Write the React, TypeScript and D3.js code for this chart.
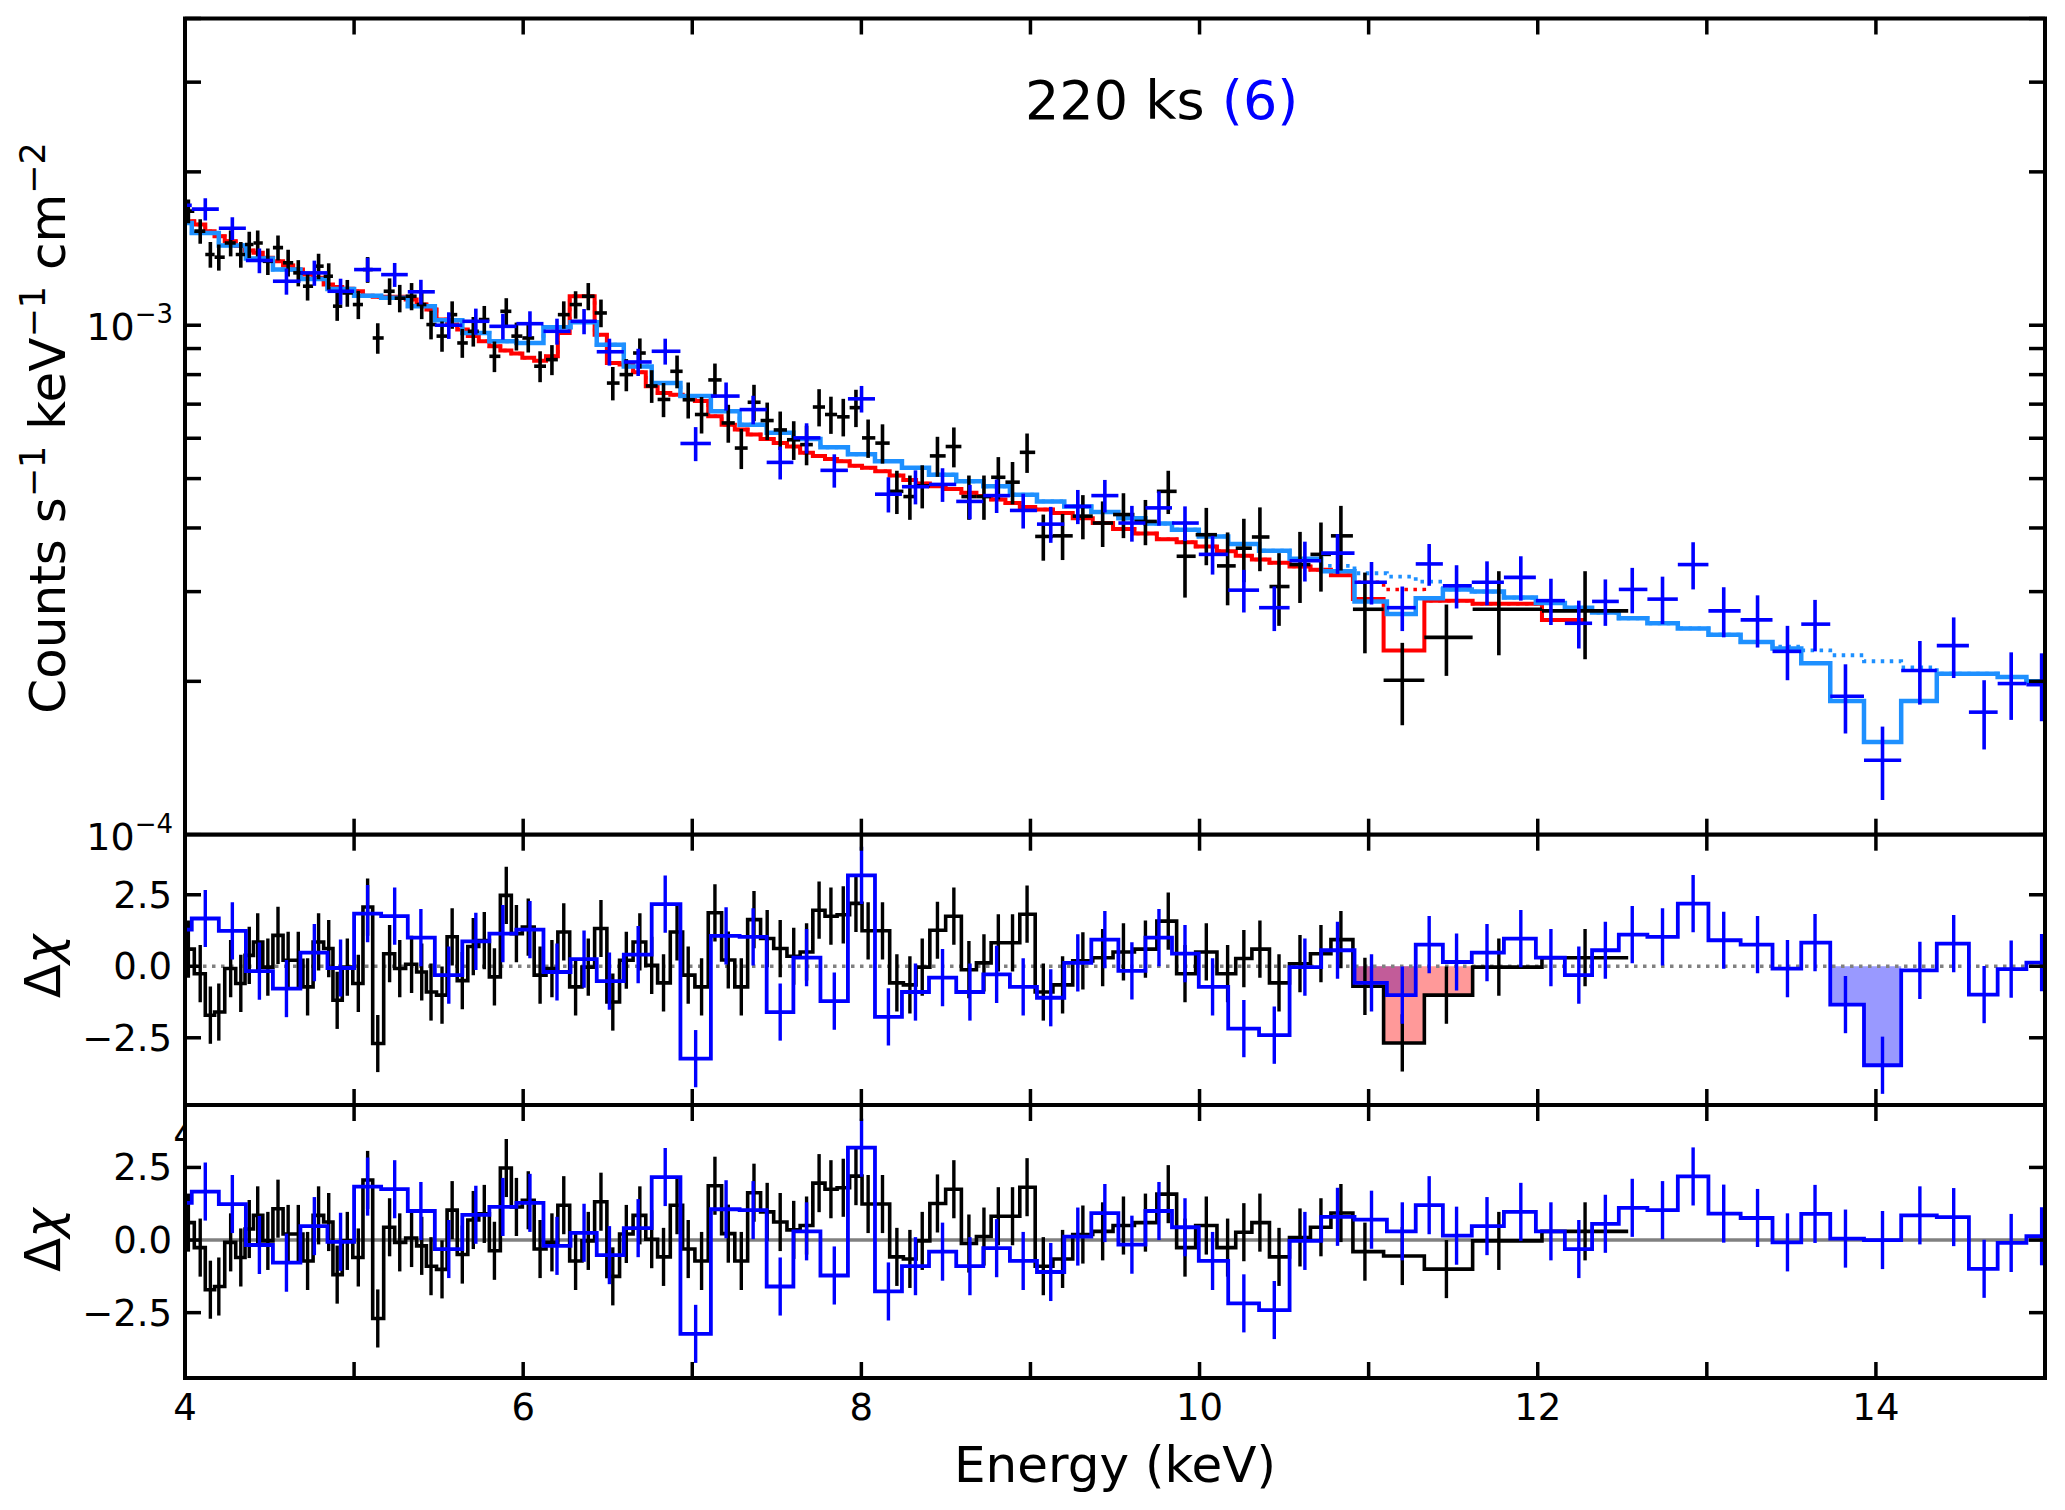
import React from 'react';
import * as d3 from 'd3';

const FONT = "'DejaVu Sans', Verdana, sans-serif";

// ---- black spectrum (fine bins), flux in units of 1e-3 counts/s/keV/cm2 ----
const blackE = [
  4.02, 4.09, 4.15, 4.2, 4.27, 4.33, 4.38, 4.43, 4.49, 4.55,
  4.61, 4.67, 4.725, 4.79, 4.85, 4.9, 4.96, 5.025, 5.08, 5.14,
  5.21, 5.27, 5.34, 5.4, 5.455, 5.52, 5.58, 5.64, 5.705, 5.77,
  5.83, 5.9, 5.96, 6.03, 6.1, 6.17, 6.24, 6.31, 6.385, 6.46,
  6.53, 6.61, 6.69, 6.76, 6.83, 6.91, 6.976, 7.055, 7.134, 7.213,
  7.29, 7.365, 7.443, 7.52, 7.6, 7.676, 7.75, 7.82, 7.893, 7.968,
  8.04, 8.125, 8.21, 8.287, 8.36, 8.45, 8.547, 8.636, 8.725, 8.81,
  8.894, 8.98, 9.076, 9.19, 9.31, 9.427, 9.55, 9.68, 9.815, 9.914,
  10.04, 10.166, 10.262, 10.357, 10.47, 10.594, 10.718, 10.836, 10.978, 11.199,
  11.46, 11.77, 12.28,
];
const blackFlux = [
  1.675, 1.53, 1.377, 1.36, 1.45, 1.377, 1.44, 1.45, 1.335, 1.42,
  1.326, 1.267, 1.193, 1.306, 1.248, 1.09, 1.157, 1.098, 1.286, 0.944,
  1.166, 1.13, 1.14, 1.098, 1.003, 0.952, 1.049, 0.923, 0.973, 1.026,
  0.869, 1.065, 0.952, 0.944, 0.831, 0.856, 1.049, 1.098, 1.14, 1.057,
  0.77, 0.8, 0.882, 0.76, 0.715, 0.812, 0.714, 0.668, 0.781, 0.643,
  0.574, 0.706, 0.65, 0.623, 0.596, 0.583, 0.691, 0.668, 0.661, 0.689,
  0.601, 0.587, 0.472, 0.461, 0.484, 0.554, 0.578, 0.461, 0.461, 0.503,
  0.492, 0.563, 0.385, 0.386, 0.422, 0.409, 0.425, 0.412, 0.472, 0.352,
  0.388, 0.337, 0.365, 0.384, 0.307, 0.339, 0.355, 0.386, 0.277, 0.201,
  0.244, 0.277, 0.275,
];
const blackErr = [
  0.09, 0.085, 0.08, 0.08, 0.085, 0.08, 0.085, 0.085, 0.08, 0.08,
  0.08, 0.075, 0.075, 0.075, 0.075, 0.07, 0.07, 0.07, 0.075, 0.065,
  0.07, 0.07, 0.07, 0.07, 0.065, 0.065, 0.065, 0.06, 0.065, 0.065,
  0.06, 0.065, 0.06, 0.06, 0.058, 0.058, 0.065, 0.068, 0.07, 0.066,
  0.058, 0.058, 0.06, 0.056, 0.055, 0.06, 0.058, 0.055, 0.06, 0.055,
  0.052, 0.058, 0.055, 0.054, 0.052, 0.052, 0.058, 0.056, 0.056, 0.058,
  0.052, 0.052, 0.046, 0.046, 0.047, 0.05, 0.052, 0.046, 0.046, 0.048,
  0.047, 0.05, 0.04, 0.04, 0.042, 0.042, 0.043, 0.042, 0.046, 0.06,
  0.05, 0.055, 0.052, 0.055, 0.05, 0.054, 0.055, 0.056, 0.05, 0.037,
  0.039, 0.052, 0.054,
];
// red model (with the absorption line) and its continuum (dotted)
const redModel = [
  1.6, 1.577, 1.53, 1.495, 1.462, 1.43, 1.402, 1.387, 1.356, 1.336,
  1.31, 1.286, 1.257, 1.239, 1.202, 1.188, 1.179, 1.166, 1.143, 1.137,
  1.137, 1.137, 1.123, 1.098, 1.074, 1.026, 1.003, 0.981, 0.952, 0.93,
  0.909, 0.892, 0.88, 0.863, 0.852, 0.869, 0.966, 1.14, 1.14, 0.958,
  0.843, 0.837, 0.809, 0.759, 0.736, 0.73, 0.726, 0.71, 0.663, 0.638,
  0.624, 0.61, 0.598, 0.587, 0.578, 0.562, 0.554, 0.546, 0.541, 0.53,
  0.525, 0.517, 0.507, 0.497, 0.489, 0.483, 0.477, 0.469, 0.462, 0.455,
  0.448, 0.44, 0.435, 0.428, 0.418, 0.409, 0.398, 0.39, 0.38, 0.375,
  0.368, 0.36, 0.353, 0.347, 0.342, 0.336, 0.331, 0.323, 0.29, 0.23,
  0.288, 0.284, 0.264,
];
const redContinuum = [
  1.6, 1.577, 1.53, 1.495, 1.462, 1.43, 1.402, 1.387, 1.356, 1.336,
  1.31, 1.286, 1.257, 1.239, 1.202, 1.188, 1.179, 1.166, 1.143, 1.137,
  1.137, 1.137, 1.123, 1.098, 1.074, 1.026, 1.003, 0.981, 0.952, 0.93,
  0.909, 0.892, 0.88, 0.863, 0.852, 0.869, 0.966, 1.14, 1.14, 0.958,
  0.843, 0.837, 0.809, 0.759, 0.736, 0.73, 0.726, 0.71, 0.663, 0.638,
  0.624, 0.61, 0.598, 0.587, 0.578, 0.562, 0.554, 0.546, 0.541, 0.53,
  0.525, 0.517, 0.507, 0.497, 0.489, 0.483, 0.477, 0.469, 0.462, 0.455,
  0.448, 0.44, 0.435, 0.428, 0.418, 0.409, 0.398, 0.39, 0.38, 0.375,
  0.368, 0.36, 0.353, 0.347, 0.342, 0.336, 0.331, 0.323, 0.313, 0.303,
  0.288, 0.284, 0.264,
];
// residuals (delta chi) against the continuum (middle) and the full model (bottom)
const blackResCont = [
  0.6, -0.26, -1.71, -1.6, -0.08, -0.6, 0.38, 0.85, -0.03, 1.08,
  0.21, 0.21, -0.72, 0.85, 0.62, -1.19, -0.03, -0.6, 2.07, -2.7,
  0.44, -0.08, 0.07, -0.2, -0.9, -1.01, 1.03, -0.5, 0.69, 0.9,
  -0.37, 2.48, 1.14, 1.37, -0.31, -0.08, 1.2, -0.72, -0.03, 1.32,
  -1.25, 0.21, 0.85, 0.03, -0.58, 1.2, -0.31, -0.72, 1.87, 0.22,
  -0.72, 1.63, 0.97, 0.62, 0.35, 0.5, 1.96, 1.75, 1.8, 2.2,
  1.24, 1.24, -0.58, -0.65, -0.03, 1.26, 1.75, -0.12, 0.12, 0.82,
  0.82, 1.82, -0.9, -0.65, 0.19, 0.3, 0.5, 0.6, 1.58, -0.26,
  0.5, -0.26, 0.27, 0.6, -0.58, 0.09, 0.44, 0.93, -0.7, -2.68,
  -1.01, -0.03, 0.3,
];
const blackResLine = [
  0.6, -0.26, -1.71, -1.6, -0.08, -0.6, 0.38, 0.85, -0.03, 1.08,
  0.21, 0.21, -0.72, 0.85, 0.62, -1.19, -0.03, -0.6, 2.07, -2.7,
  0.44, -0.08, 0.07, -0.2, -0.9, -1.01, 1.03, -0.5, 0.69, 0.9,
  -0.37, 2.48, 1.14, 1.37, -0.31, -0.08, 1.2, -0.72, -0.03, 1.32,
  -1.25, 0.21, 0.85, 0.03, -0.58, 1.2, -0.31, -0.72, 1.87, 0.22,
  -0.72, 1.63, 0.97, 0.62, 0.35, 0.5, 1.96, 1.75, 1.8, 2.2,
  1.24, 1.24, -0.58, -0.65, -0.03, 1.26, 1.75, -0.12, 0.12, 0.82,
  0.82, 1.82, -0.9, -0.65, 0.19, 0.3, 0.5, 0.6, 1.58, -0.26,
  0.5, -0.26, 0.27, 0.6, -0.58, 0.09, 0.44, 0.93, -0.4, -0.55,
  -1.0, -0.03, 0.3,
];
const blackFillIdx = [88, 89, 90];

// ---- blue spectrum (coarser bins) ----
const blueE = [
  3.96, 4.12, 4.28, 4.44, 4.6, 4.765, 4.92, 5.08, 5.24, 5.395,
  5.56, 5.72, 5.88, 6.04, 6.2, 6.36, 6.51, 6.68, 6.84, 7.02,
  7.2, 7.36, 7.52, 7.676, 7.84, 8.001, 8.16, 8.32, 8.48, 8.642,
  8.8, 8.957, 9.12, 9.28, 9.44, 9.6, 9.76, 9.914, 10.077, 10.262,
  10.442, 10.623, 10.816, 11.017, 11.199, 11.358, 11.52, 11.7, 11.9, 12.078,
  12.243, 12.4, 12.559, 12.738, 12.919, 13.1, 13.3, 13.477, 13.64, 13.82,
  14.039, 14.26, 14.46, 14.64, 14.8, 14.98,
];
const blueFlux = [
  1.72, 1.69, 1.55, 1.34, 1.22, 1.267, 1.166, 1.286, 1.257, 1.163,
  1.0, 1.018, 0.995, 1.007, 0.973, 1.018, 0.887, 0.847, 0.889, 0.586,
  0.726, 0.683, 0.538, 0.601, 0.519, 0.717, 0.466, 0.482, 0.487, 0.451,
  0.463, 0.433, 0.407, 0.441, 0.463, 0.409, 0.438, 0.409, 0.355, 0.302,
  0.279, 0.345, 0.357, 0.313, 0.279, 0.34, 0.308, 0.313, 0.32, 0.288,
  0.26, 0.287, 0.303, 0.29, 0.339, 0.275, 0.264, 0.229, 0.259, 0.187,
  0.14, 0.21, 0.235, 0.174, 0.198, 0.197,
];
const blueErr = [
  0.09, 0.085, 0.08, 0.075, 0.072, 0.072, 0.068, 0.07, 0.068, 0.065,
  0.06, 0.06, 0.058, 0.058, 0.057, 0.058, 0.054, 0.052, 0.052, 0.045,
  0.046, 0.044, 0.04, 0.041, 0.039, 0.043, 0.037, 0.037, 0.037, 0.035,
  0.035, 0.034, 0.033, 0.034, 0.034, 0.033, 0.034, 0.032, 0.031, 0.029,
  0.028, 0.031, 0.032, 0.03, 0.028, 0.032, 0.03, 0.031, 0.032, 0.03,
  0.028, 0.03, 0.031, 0.031, 0.036, 0.031, 0.031, 0.028, 0.03, 0.029,
  0.023, 0.03, 0.032, 0.027, 0.03, 0.03,
];
const lightModel = [
  1.588, 1.518, 1.434, 1.352, 1.286, 1.233, 1.178, 1.143, 1.132, 1.09,
  1.023, 0.966, 0.93, 0.923, 0.991, 1.014, 0.916, 0.83, 0.77, 0.726,
  0.678, 0.638, 0.615, 0.598, 0.576, 0.558, 0.541, 0.525, 0.509, 0.494,
  0.483, 0.465, 0.451, 0.441, 0.43, 0.418, 0.408, 0.397, 0.385, 0.372,
  0.361, 0.348, 0.329, 0.287, 0.271, 0.291, 0.303, 0.3, 0.292, 0.285,
  0.279, 0.273, 0.266, 0.26, 0.254, 0.247, 0.239, 0.232, 0.217, 0.183,
  0.152, 0.183, 0.207, 0.207, 0.204, 0.2,
];
const lightContinuum = [
  1.588, 1.518, 1.434, 1.352, 1.286, 1.233, 1.178, 1.143, 1.132, 1.09,
  1.023, 0.966, 0.93, 0.923, 0.991, 1.014, 0.916, 0.83, 0.77, 0.726,
  0.678, 0.638, 0.615, 0.598, 0.576, 0.558, 0.541, 0.525, 0.509, 0.494,
  0.483, 0.465, 0.451, 0.441, 0.43, 0.418, 0.408, 0.397, 0.385, 0.372,
  0.361, 0.348, 0.337, 0.326, 0.321, 0.314, 0.303, 0.3, 0.292, 0.285,
  0.279, 0.273, 0.266, 0.26, 0.254, 0.247, 0.239, 0.234, 0.23, 0.225,
  0.219, 0.213, 0.207, 0.207, 0.204, 0.2,
];
const blueResCont = [
  1.28, 1.67, 1.24, -0.17, -0.78, 0.48, -0.06, 1.84, 1.75, 1.0,
  -0.31, 0.87, 1.14, 1.28, -0.2, 0.25, -0.52, 0.41, 2.17, -3.23,
  1.06, 1.03, -1.6, 0.3, -1.22, 3.18, -1.77, -0.9, -0.4, -0.9,
  -0.28, -0.72, -1.1, 0.12, 0.93, -0.16, 1.0, 0.44, -0.72, -2.18,
  -2.41, -0.03, 0.56, -0.58, -1.01, 0.76, 0.15, 0.48, 0.97, 0.3,
  -0.31, 0.56, 1.11, 1.03, 2.19, 0.91, 0.76, -0.08, 0.83, -1.34,
  -3.46, -0.14, 0.79, -0.99, -0.1, 0.13,
];
const blueResLine = [
  1.28, 1.67, 1.24, -0.17, -0.78, 0.48, -0.06, 1.84, 1.75, 1.0,
  -0.31, 0.87, 1.14, 1.28, -0.2, 0.25, -0.52, 0.41, 2.17, -3.23,
  1.06, 1.03, -1.6, 0.3, -1.22, 3.18, -1.77, -0.9, -0.4, -0.9,
  -0.28, -0.72, -1.1, 0.12, 0.93, -0.16, 1.0, 0.44, -0.72, -2.18,
  -2.41, -0.03, 0.8, 0.7, 0.3, 1.2, 0.15, 0.48, 0.97, 0.3,
  -0.31, 0.56, 1.11, 1.03, 2.19, 0.91, 0.76, -0.08, 0.9, 0.05,
  0.0, 0.85, 0.79, -0.99, -0.1, 0.13,
];
const blueFillIdx = [[43, 44], [59, 60]];

const xTicks = d3.range(4, 16);
const xLabels = [4, 6, 8, 10, 12, 14];
const resTicks = [-2.5, 0, 2.5];
const topMajor = [1e-4, 1e-3];
const topMinor = [2e-4, 3e-4, 4e-4, 5e-4, 6e-4, 7e-4, 8e-4, 9e-4, 2e-3, 3e-3, 4e-3];

// ---- scales ----
const x = d3.scaleLinear().domain([4, 15]).range([185, 2045]);
const yTop = d3.scaleLog().domain([1e-4, 4e-3]).range([834.7, 18.5]);
const yMid = d3.scaleLinear().domain([-4.85, 4.6]).range([1105, 834.7]);
const yBot = d3.scaleLinear().domain([-4.75, 4.65]).range([1378, 1105]);
const X0 = x(4), X1 = x(15);
const TICK = 16;

const fTop = (v: number) => yTop(v * 1e-3);

const edgesOf = (c: number[]): [number, number][] =>
  c.map((v, i) => [
    i === 0 ? v - (c[1] - c[0]) / 2 : (c[i - 1] + v) / 2,
    i === c.length - 1 ? v + (v - c[i - 1]) / 2 : (v + c[i + 1]) / 2,
  ]);
const blackEdges = edgesOf(blackE);
const blueEdges = edgesOf(blueE);

function stepPath(edges: [number, number][], vals: number[], fy: (v: number) => number, lastHi?: number) {
  return vals
    .map((v, i) => {
      const lo = edges[i][0];
      const hi = i === vals.length - 1 && lastHi !== undefined ? lastHi : edges[i][1];
      return `${i ? 'L' : 'M'}${x(lo)},${fy(v)}L${x(hi)},${fy(v)}`;
    })
    .join('');
}

function fillPath(edges: [number, number][], vals: number[], idx: number[], fy: (v: number) => number) {
  const y0 = fy(0);
  let d = `M${x(edges[idx[0]][0])},${y0}`;
  idx.forEach((i) => {
    d += `L${x(edges[i][0])},${fy(vals[i])}L${x(edges[i][1])},${fy(vals[i])}`;
  });
  return d + `L${x(edges[idx[idx.length - 1]][1])},${y0}Z`;
}

function Crosses({ E, F, err, edges, color }: { E: number[]; F: number[]; err: number[]; edges: [number, number][]; color: string }) {
  return (
    <g stroke={color} strokeWidth={3.6}>
      {E.map((e, i) => (
        <g key={i}>
          <line x1={x(edges[i][0])} x2={x(edges[i][1])} y1={fTop(F[i])} y2={fTop(F[i])} />
          <line x1={x(e)} x2={x(e)} y1={fTop(F[i] + err[i])} y2={fTop(F[i] - err[i])} />
        </g>
      ))}
    </g>
  );
}

function XTicks({ top, bottom }: { top: number; bottom: number }) {
  return (
    <g stroke="#000" strokeWidth={3.5}>
      {xTicks.map((t) => (
        <g key={t}>
          <line x1={x(t)} x2={x(t)} y1={top} y2={top + TICK} />
          <line x1={x(t)} x2={x(t)} y1={bottom} y2={bottom - TICK} />
        </g>
      ))}
    </g>
  );
}

function YTicks({ ys }: { ys: number[] }) {
  return (
    <g stroke="#000" strokeWidth={3.5}>
      {ys.map((y, i) => (
        <g key={i}>
          <line x1={X0} x2={X0 + TICK} y1={y} y2={y} />
          <line x1={X1} x2={X1 - TICK} y1={y} y2={y} />
        </g>
      ))}
    </g>
  );
}

function ResidualPanel({ sy, bRes, uRes, dotted, fills, id }: {
  sy: d3.ScaleLinear<number, number>; bRes: number[]; uRes: number[]; dotted: boolean; fills: boolean; id: string;
}) {
  const [yb, yt] = sy.range();
  const fy = (v: number) => sy(v);
  return (
    <g>
      <rect x={X0} y={yt} width={X1 - X0} height={yb - yt} fill="#fff" />
      <clipPath id={id}>
        <rect x={X0} y={yt} width={X1 - X0} height={yb - yt} />
      </clipPath>
      <g clipPath={`url(#${id})`}>
        {fills && (
          <g>
            {blueFillIdx.map((idx, k) => (
              <path key={k} d={fillPath(blueEdges, uRes, idx, fy)} fill="#0000ff" fillOpacity={0.4} />
            ))}
            <path d={fillPath(blackEdges, bRes, blackFillIdx, fy)} fill="#ff0000" fillOpacity={0.4} />
          </g>
        )}
        <line x1={X0} x2={X1} y1={sy(0)} y2={sy(0)} stroke="#808080" strokeWidth={3.5}
          strokeDasharray={dotted ? '3.5,5.5' : undefined} />
        <path d={stepPath(blackEdges, bRes, fy)} fill="none" stroke="#000" strokeWidth={3.6} />
        <g stroke="#000" strokeWidth={3.4}>
          {blackE.map((e, i) => (
            <line key={i} x1={x(e)} x2={x(e)} y1={sy(bRes[i] + 1)} y2={sy(bRes[i] - 1)} />
          ))}
        </g>
        <path d={stepPath(blueEdges, uRes, fy)} fill="none" stroke="#0000ff" strokeWidth={3.8} />
        <g stroke="#0000ff" strokeWidth={3.4}>
          {blueE.map((e, i) => (
            <line key={i} x1={x(e)} x2={x(e)} y1={sy(uRes[i] + 1)} y2={sy(uRes[i] - 1)} />
          ))}
        </g>
      </g>
      <XTicks top={yt} bottom={yb} />
      <YTicks ys={resTicks.map((t) => sy(t))} />
      {resTicks.map((t) => (
        <text key={t} x={172} y={sy(t) + 13} textAnchor="end" fontSize={37}>
          {t === 0 ? '0.0' : t < 0 ? `\u2212${Math.abs(t).toFixed(1)}` : t.toFixed(1)}
        </text>
      ))}
      <text transform={`translate(60,${sy(0)}) rotate(-90)`} textAnchor="middle" fontSize={50}>
        Δ<tspan fontStyle="italic">χ</tspan>
      </text>
      <rect x={X0} y={yt} width={X1 - X0} height={yb - yt} fill="none" stroke="#000" strokeWidth={4} />
    </g>
  );
}

export default function App() {
  const [yb, yt] = yTop.range();
  return (
    <svg width={2065} height={1510} style={{ position: 'absolute', left: 0, top: 0, background: '#fff' }}
      fontFamily={FONT}>
      <rect width={2065} height={1510} fill="#fff" />
      {/* top panel: spectra */}
      <clipPath id="clipTop">
        <rect x={X0} y={yt} width={X1 - X0} height={yb - yt} />
      </clipPath>
      <g clipPath="url(#clipTop)">
        <path d={stepPath(blackEdges, redContinuum, fTop, blackE[blackE.length - 1])} fill="none"
          stroke="#ff0000" strokeWidth={3.5} strokeDasharray="3.5,5.5" />
        <path d={stepPath(blackEdges, redModel, fTop, blackE[blackE.length - 1])} fill="none"
          stroke="#ff0000" strokeWidth={4} />
        <path d={stepPath(blueEdges, lightContinuum, fTop)} fill="none" stroke="#1e90ff" strokeWidth={3.8}
          strokeDasharray="3.5,5.5" />
        <path d={stepPath(blueEdges, lightModel, fTop)} fill="none" stroke="#1e90ff" strokeWidth={4.5} />
        <Crosses E={blackE} F={blackFlux} err={blackErr} edges={blackEdges} color="#000" />
        <Crosses E={blueE} F={blueFlux} err={blueErr} edges={blueEdges} color="#0000ff" />
      </g>
      <XTicks top={yt} bottom={yb} />
      <YTicks ys={topMajor.concat(topMinor).map((v) => yTop(v))} />
      {topMajor.map((v) => (
        <text key={v} x={173} y={yTop(v) + 15} textAnchor="end" fontSize={38}>
          10<tspan fontSize={26} dy={-17}>{`\u2212${Math.round(-Math.log10(v))}`}</tspan>
        </text>
      ))}
      <text transform="translate(65,428) rotate(-90)" textAnchor="middle" fontSize={50}>
        Counts s<tspan fontSize={35} dy={-20}>−1</tspan>
        <tspan dy={20}>{' keV'}</tspan>
        <tspan fontSize={35} dy={-20}>−1</tspan>
        <tspan dy={20}>{' cm'}</tspan>
        <tspan fontSize={35} dy={-20}>−2</tspan>
      </text>
      <text x={1025} y={119} fontSize={54}>
        {'220 ks '}
        <tspan fill="#0000ff">(6)</tspan>
      </text>
      <rect x={X0} y={yt} width={X1 - X0} height={yb - yt} fill="none" stroke="#000" strokeWidth={4} />

      {/* middle panel: residuals against the continuum */}
      <ResidualPanel sy={yMid} bRes={blackResCont} uRes={blueResCont} dotted fills id="clipMid" />
      <text x={x(4)} y={yMid.range()[0] + 42} textAnchor="middle" fontSize={37}>4</text>

      {/* bottom panel: residuals with the lines included */}
      <ResidualPanel sy={yBot} bRes={blackResLine} uRes={blueResLine} dotted={false} fills={false} id="clipBot" />
      {xLabels.map((t) => (
        <text key={t} x={x(t)} y={1420} textAnchor="middle" fontSize={37}>{t}</text>
      ))}
      <text x={(X0 + X1) / 2} y={1482} textAnchor="middle" fontSize={50}>Energy (keV)</text>
    </svg>
  );
}
